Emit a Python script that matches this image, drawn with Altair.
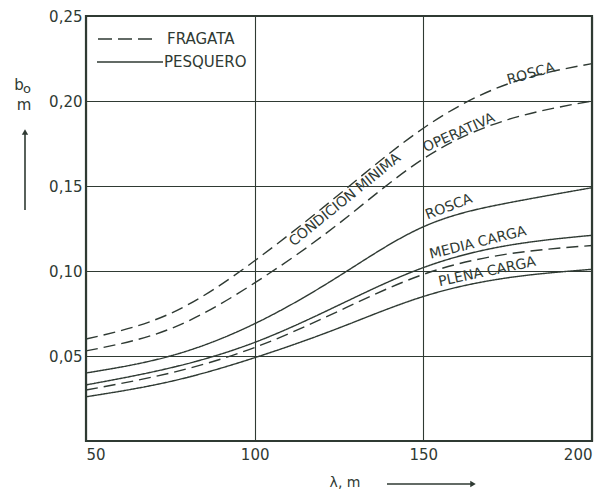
import altair as alt
import pandas as pd

# ---- data ----
lam = [50, 75, 100, 125, 150, 175, 200]
fragata_rosca = [0.060, 0.075, 0.106, 0.145, 0.184, 0.210, 0.222]
fragata_cmo = [0.053, 0.066, 0.093, 0.128, 0.166, 0.189, 0.200]
fragata_carga = [0.030, 0.040, 0.055, 0.0765, 0.098, 0.110, 0.115]
pesquero_rosca = [0.040, 0.050, 0.069, 0.097, 0.126, 0.140, 0.149]
pesquero_media = [0.033, 0.043, 0.058, 0.080, 0.102, 0.115, 0.121]
pesquero_plena = [0.026, 0.035, 0.049, 0.0665, 0.085, 0.096, 0.101]

x_ticks = [50, 100, 150, 200]
y_ticks = [0.05, 0.10, 0.15, 0.20, 0.25]

label_text = ["ROSCA", "CONDICION  MINIMA", "OPERATIVA", "ROSCA", "MEDIA CARGA", "PLENA CARGA"]
label_lam = [181.9, 126.8, 160.6, 157.6, 166.2, 168.9]
label_b = [0.2159, 0.1418, 0.1812, 0.1376, 0.1165, 0.0994]
label_angle = [344, 321, 336, 339, 346, 348]

INK = "#2f3a33"
FONT = "DejaVu Sans"

series = [
    ("Fragata rosca", "FRAGATA", fragata_rosca),
    ("Fragata condición mínima operativa", "FRAGATA", fragata_cmo),
    ("Fragata carga", "FRAGATA", fragata_carga),
    ("Pesquero rosca", "PESQUERO", pesquero_rosca),
    ("Pesquero media carga", "PESQUERO", pesquero_media),
    ("Pesquero plena carga", "PESQUERO", pesquero_plena),
]
rows = []
for name, kind, vals in series:
    for l, v in zip(lam, vals):
        rows.append({"lam": l, "b": v, "serie": name, "tipo": kind})
df = pd.DataFrame(rows)

labels = pd.DataFrame({"text": label_text, "lam": label_lam, "b": label_b, "angle": label_angle})

xs = alt.Scale(domain=[50, 200], nice=False, zero=False)
ys = alt.Scale(domain=[0, 0.25], nice=False)

lines = alt.Chart(df).mark_line(interpolate="natural", strokeWidth=1.4, color=INK).encode(
    x=alt.X("lam:Q", scale=xs, axis=alt.Axis(values=x_ticks, title=None, grid=True, domain=False,
                                              ticks=False, labelFontSize=15, labelPadding=6,
                                              labelFont=FONT, labelColor=INK, gridColor=INK,
                                              gridOpacity=1, gridWidth=1.1)),
    y=alt.Y("b:Q", scale=ys, axis=alt.Axis(values=y_ticks, title=None, grid=True, domain=False,
                                            ticks=False, labelFontSize=15, labelPadding=4,
                                            labelFont=FONT, labelColor=INK, gridColor=INK,
                                            gridOpacity=1, gridWidth=1.1,
                                            labelExpr="replace(format(datum.value, '.2f'), '.', ',')")),
    strokeDash=alt.StrokeDash("tipo:N", scale=alt.Scale(domain=["FRAGATA", "PESQUERO"],
                                                          range=[[12, 6], [1, 0]]), legend=None),
    detail="serie:N",
)

curve_labels = alt.Chart(labels).mark_text(font=FONT, fontSize=14, color=INK, baseline="middle",
                                           align="center").encode(
    x=alt.X("lam:Q", scale=xs), y=alt.Y("b:Q", scale=ys), text="text:N",
    angle=alt.Angle("angle:Q", scale=None),
)

one = pd.DataFrame({"k": [0]})
base = alt.Chart(one)

leg_dash = base.mark_rule(color=INK, strokeWidth=1.4, strokeDash=[14, 6]).encode(
    x=alt.value(12), x2=alt.value(71), y=alt.value(23))
leg_solid = base.mark_rule(color=INK, strokeWidth=1.4).encode(
    x=alt.value(11), x2=alt.value(77), y=alt.value(46))
leg_t1 = base.mark_text(text="FRAGATA", font=FONT, fontSize=15, color=INK, align="left",
                        baseline="middle").encode(x=alt.value(81), y=alt.value(23))
leg_t2 = base.mark_text(text="PESQUERO", font=FONT, fontSize=15, color=INK, align="left",
                        baseline="middle").encode(x=alt.value(78), y=alt.value(46))

yb = base.mark_text(text="b", font=FONT, fontSize=15, color=INK, align="center",
                    baseline="middle").encode(x=alt.value(-67), y=alt.value(69))
yo = base.mark_text(text="o", font=FONT, fontSize=13, color=INK, align="center",
                    baseline="middle").encode(x=alt.value(-59), y=alt.value(73))
ym = base.mark_text(text="m", font=FONT, fontSize=15, color=INK, align="center",
                    baseline="middle").encode(x=alt.value(-62), y=alt.value(89))
yarrow = base.mark_rule(color=INK, strokeWidth=1.6).encode(
    x=alt.value(-61), y=alt.value(194), y2=alt.value(116))
yhead = base.mark_point(shape="triangle-up", filled=True, color=INK, size=40, opacity=1).encode(
    x=alt.value(-61), y=alt.value(116))

xl = base.mark_text(text="λ, m", font=FONT, fontSize=14, color=INK, align="center",
                    baseline="middle").encode(x=alt.value(259), y=alt.value(467))
xarrow = base.mark_rule(color=INK, strokeWidth=1.6).encode(
    x=alt.value(301), x2=alt.value(386), y=alt.value(468))
xhead = base.mark_point(shape="triangle-right", filled=True, color=INK, size=40, opacity=1).encode(
    x=alt.value(387), y=alt.value(468))

chart = alt.layer(
    lines, curve_labels, leg_dash, leg_solid, leg_t1, leg_t2,
    yb, yo, ym, yarrow, yhead, xl, xarrow, xhead,
).properties(
    width=506, height=425,
    autosize=alt.AutoSizeParams(type="none"),
    padding={"left": 78, "top": 8, "right": 10, "bottom": 53},
    background="white",
).configure_view(stroke=INK, strokeWidth=2.2)

chart.save("out.html", embed_options={"renderer": "svg", "actions": False})
